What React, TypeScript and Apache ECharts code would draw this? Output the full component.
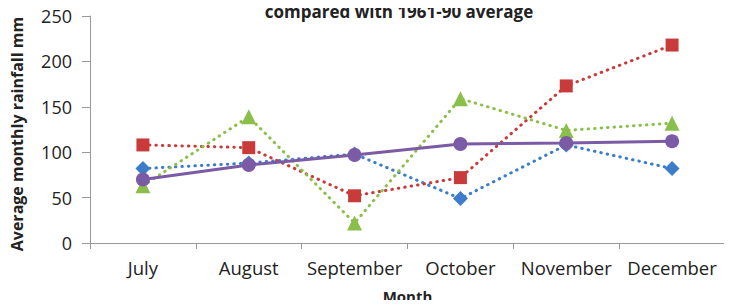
import React, { useEffect, useRef } from "react";
import * as echarts from "echarts";

const months = ["July", "August", "September", "October", "November", "December"];
const blueSeries = [82, 88, 98, 49, 108, 82];
const redSeries = [108, 105, 52, 72, 173, 218];
const greenSeries = [63, 139, 22, 159, 124, 132];
const purpleSeries = [70, 86, 97, 109, 110, 112];
const titleText = "compared with 1961-90 average";
const yName = "Average monthly rainfall mm";
const xName = "Month";

const FONT = "'Open Sans', Lato, sans-serif";

export default function App() {
  const ref = useRef<HTMLDivElement>(null);
  useEffect(() => {
    if (!ref.current) return;
    const chart = echarts.init(ref.current, undefined, { renderer: "svg" });
    const dotted = (name: string, data: number[], color: string, symbol: string, size: number) => ({
      name,
      type: "line",
      data,
      symbol,
      symbolSize: size,
      lineStyle: { color, width: 3, type: [0.5, 6] as any, cap: "round" },
      itemStyle: { color },
      z: 2,
    });
    chart.setOption({
      animation: false,
      textStyle: { fontFamily: FONT },
      graphic: [
        {
          type: "text",
          x: 399,
          y: 11,
          style: {
            text: titleText,
            x: 0,
            y: 0,
            align: "center",
            verticalAlign: "middle",
            font: "bold 17px 'Open Sans', Lato, sans-serif",
            fill: "#222",
          },
        },
      ],
      grid: { left: 90, right: 7, top: 16, bottom: 61 },
      xAxis: {
        type: "category",
        data: months,
        boundaryGap: true,
        name: xName,
        nameLocation: "middle",
        nameGap: 45,
        nameTextStyle: { fontFamily: FONT, fontSize: 15, fontWeight: "bold", color: "#222" },
        axisLine: { lineStyle: { color: "#999", width: 1 } },
        axisTick: { show: true, length: 6, interval: 0, lineStyle: { color: "#999" } },
        axisLabel: { fontFamily: FONT, fontSize: 18.5, color: "#222", margin: 15, interval: 0 },
      },
      yAxis: {
        type: "value",
        min: 0,
        max: 250,
        interval: 50,
        name: yName,
        nameLocation: "middle",
        nameGap: 65,
        nameTextStyle: { fontFamily: FONT, fontSize: 16, fontWeight: "bold", color: "#222", padding: [0, 9, 0, 0] },
        splitLine: { show: false },
        axisLine: { show: true, lineStyle: { color: "#999", width: 1 } },
        axisTick: { show: true, length: 8, lineStyle: { color: "#999" } },
        axisLabel: { fontFamily: FONT, fontSize: 18, color: "#222", margin: 18 },
      },
      series: [
        dotted("Blue", blueSeries, "#3b7dc8", "diamond", 15),
        dotted("Red", redSeries, "#c93b3b", "rect", 13),
        dotted("Green", greenSeries, "#8bbf4c", "triangle", 15),
        {
          name: "Average",
          type: "line",
          data: purpleSeries,
          symbol: "circle",
          symbolSize: 14,
          lineStyle: { color: "#7b5aa6", width: 3 },
          itemStyle: { color: "#7b5aa6" },
          z: 3,
        },
      ],
    });
    return () => chart.dispose();
  }, []);
  return <div ref={ref} style={{ width: 732, height: 308, margin: -8 }} />;
}
